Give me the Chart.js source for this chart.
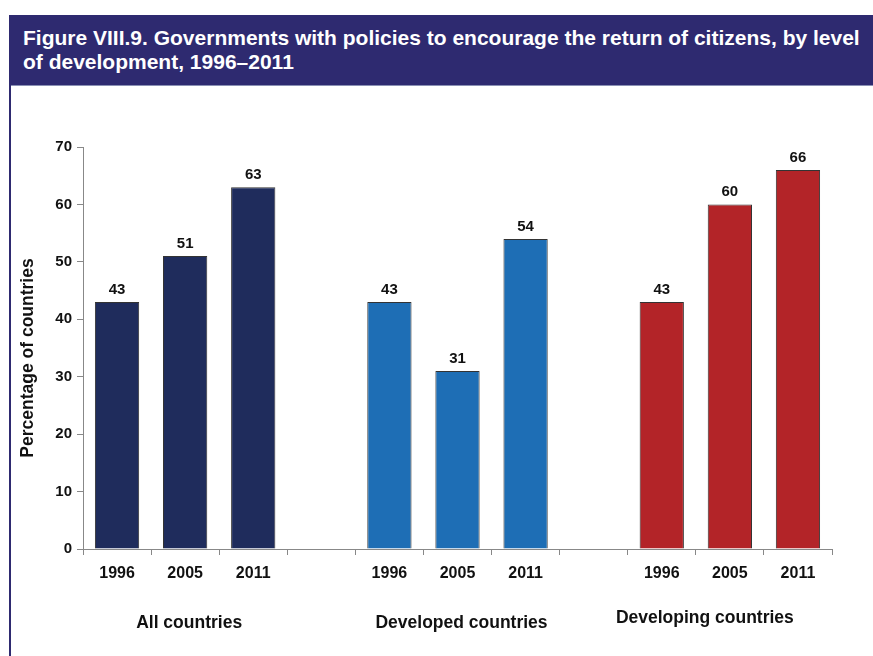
<!DOCTYPE html>
<html>
<head>
<meta charset="utf-8">
<script src="https://cdn.jsdelivr.net/npm/chart.js@4.4.1/dist/chart.umd.min.js"></script>
<style>
  html, body { margin: 0; padding: 0; background: #fff; width: 873px; height: 656px; overflow: hidden; }
  body { font-family: "Liberation Sans", Arial, sans-serif; position: relative; }
  #frame { position: absolute; left: 9px; top: 15px; width: 880px; height: 660px; border-left: 2px solid #2e2a70; }
  #title {
    background: #2e2a70; color: #fff; font-weight: bold; font-size: 21px; line-height: 24px;
    padding: 11px 0 11px 12px; border-bottom: 1px solid #8a90b4; white-space: nowrap;
  }
  #wrap { position: absolute; left: 11px; top: 87px; width: 862px; height: 569px; }
</style>
</head>
<body>
<div id="frame">
  <div id="title">Figure VIII.9. Governments with policies to encourage the return of citizens, by level<br>of development, 1996–2011</div>
</div>
<div id="wrap"><canvas id="chart"></canvas></div>
<script>
// survey years and group names
const years = ["1996", "2005", "2011"];
const groups = ["All countries", "Developed countries", "Developing countries"];

// percentage of countries with return policies
const allCountries = [43, 51, 63];
const developed = [43, 31, 54];
const developing = [43, 60, 66];

const groupColors = ["#1f2c5c", "#1e6eb5", "#b32428"];

// flatten into one category axis with an empty slot between groups
const labels = [];
const values = [];
const colors = [];
[allCountries, developed, developing].forEach((series, g) => {
  if (g > 0) { labels.push(""); values.push(null); colors.push("transparent"); }
  series.forEach((v, i) => { labels.push(years[i]); values.push(v); colors.push(groupColors[g]); });
});

const FONT = "'Liberation Sans', Arial, sans-serif";

// numbers on top of each bar
const valueLabels = {
  id: "valueLabels",
  afterDatasetsDraw(chart) {
    const ctx = chart.ctx;
    const meta = chart.getDatasetMeta(0);
    ctx.save();
    ctx.font = "bold 15px " + FONT;
    ctx.fillStyle = "#111";
    ctx.textAlign = "center";
    ctx.textBaseline = "alphabetic";
    meta.data.forEach((bar, i) => {
      if (values[i] == null) return;
      ctx.fillText(String(values[i]), bar.x, bar.y - 8);
    });
    ctx.restore();
  }
};

// group names under the year labels, plus the rotated y title
const extraText = {
  id: "extraText",
  afterDraw(chart) {
    const ctx = chart.ctx;
    const x = chart.scales.x;
    const area = chart.chartArea;
    const shift = [[4, 79], [4, 79], [-25, 74]];
    ctx.save();
    ctx.font = "bold 17.5px " + FONT;
    ctx.fillStyle = "#111";
    ctx.textAlign = "center";
    ctx.textBaseline = "alphabetic";
    groups.forEach((name, g) => {
      const idx = g * 4 + 1;
      ctx.fillText(name, x.getPixelForValue(idx) + shift[g][0], area.bottom + shift[g][1]);
    });
    ctx.translate(17, (area.top + area.bottom) / 2 + 10);
    ctx.rotate(-Math.PI / 2);
    ctx.textBaseline = "middle";
    ctx.fillText("Percentage of countries", 0, 0);
    ctx.restore();
  }
};

new Chart(document.getElementById("chart").getContext("2d"), {
  type: "bar",
  data: {
    labels: labels,
    datasets: [{
      data: values,
      backgroundColor: colors,
      borderColor: "#333",
      borderWidth: 1,
      barPercentage: 0.65,
      categoryPercentage: 1,
    }],
  },
  options: {
    responsive: true,
    maintainAspectRatio: false,
    animation: false,
    layout: { padding: { top: 60, right: 41, left: 0, bottom: 0 } },
    plugins: { legend: { display: false }, tooltip: { enabled: false } },
    scales: {
      x: {
        afterFit: (scale) => { scale.height = 107; },
        grid: { drawOnChartArea: false, color: "#888", tickLength: 6, offset: true },
        border: { color: "#888", width: 1 },
        ticks: { color: "#111", font: { family: FONT, size: 16, weight: "bold" }, padding: 9, maxRotation: 0, autoSkip: false },
      },
      y: {
        min: 0,
        max: 70,
        afterFit: (scale) => { scale.width = 72; },
        grid: { drawOnChartArea: false, color: "#888", tickLength: 6 },
        border: { color: "#888", width: 1 },
        ticks: { stepSize: 10, color: "#111", font: { family: FONT, size: 15, weight: "bold" }, padding: 5 },
      },
    },
  },
  plugins: [valueLabels, extraText],
});
</script>
</body>
</html>
